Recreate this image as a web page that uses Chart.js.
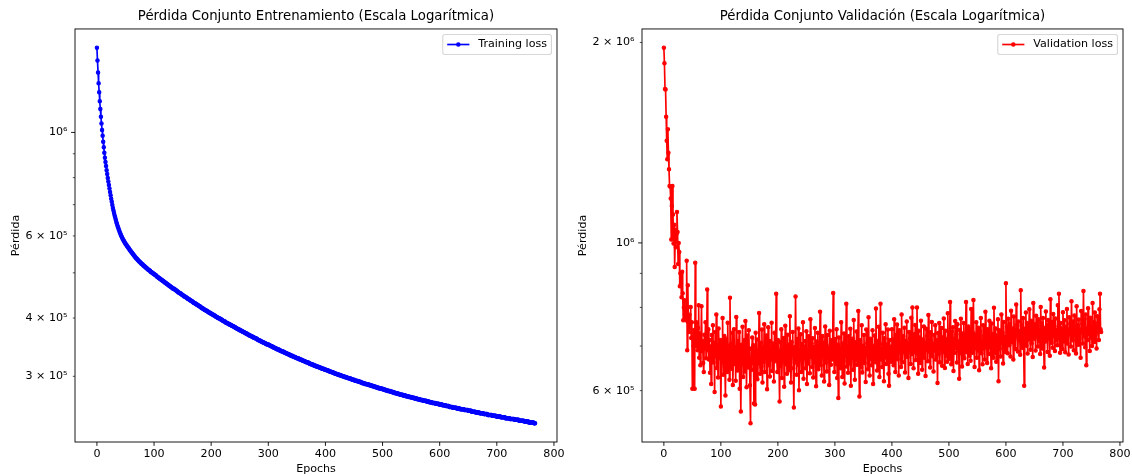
<!DOCTYPE html>
<html lang="es">
<head>
<meta charset="utf-8">
<title>Pérdida por época</title>
<script src="https://cdn.jsdelivr.net/npm/chart.js@4.4.1/dist/chart.umd.min.js"></script>
<style>
    html, body { margin: 0; padding: 0; background: #fff; }
    #wrap { position: relative; width: 1132px; height: 476px; }
    .panel { position: absolute; top: 0; width: 566px; height: 476px; }
</style>
</head>
<body>
<div id="wrap">
    <div class="panel" style="left:0"><canvas id="trainChart"></canvas></div>
    <div class="panel" style="left:566px"><canvas id="valChart"></canvas></div>
</div>
<script>
// Pérdida de entrenamiento por época (en miles)
const trainLossK = [
    1519, 1426, 1345, 1274, 1219, 1166, 1123, 1081, 1045, 1012,
    984, 955, 929, 904, 882, 864, 847, 830, 814, 799,
    785, 771, 758, 745, 733, 721, 710, 699, 689, 680,
    672, 664, 657, 650, 643, 637, 631, 626, 621, 616,
    611, 607, 603, 599, 595, 592, 589, 586, 583, 580,
    577, 575, 573, 570, 568, 566, 564, 561, 559, 557,
    555, 553, 551, 549, 547, 545, 543, 541, 539, 537,
    536, 534, 532, 531, 529, 528, 526, 525, 523, 522,
    521, 519, 518, 517, 515, 514, 513, 512, 510, 509,
    508, 507, 506, 505, 503, 502, 501, 500, 499, 498,
    497, 496, 495, 494, 493, 491, 490, 489, 488, 487,
    486, 485, 484, 483, 482, 481, 480, 479, 478, 477,
    476, 475, 474, 473, 472, 471, 470, 469, 468, 467,
    466, 465, 464, 463, 462, 462, 461, 460, 459, 458,
    457, 456, 455, 454, 453, 452, 452, 451, 450, 449,
    448, 447, 446, 445, 445, 444, 443, 442, 441, 440,
    440, 439, 438, 437, 436, 435, 435, 434, 433, 432,
    431, 431, 430, 429, 428, 427, 427, 426, 425, 424,
    424, 423, 422, 421, 420, 420, 419, 418, 417, 416,
    416, 415, 414, 414, 413, 412, 411, 411, 410, 409,
    409, 408, 407, 407, 406, 405, 405, 404, 403, 402,
    402, 401, 400, 400, 399, 399, 398, 397, 397, 396,
    395, 394, 394, 393, 393, 392, 391, 391, 390, 390,
    389, 388, 388, 387, 387, 386, 385, 385, 384, 384,
    383, 382, 382, 381, 381, 380, 379, 379, 378, 378,
    377, 376, 376, 375, 375, 374, 374, 373, 373, 372,
    371, 371, 370, 370, 369, 369, 368, 367, 367, 366,
    366, 365, 365, 364, 364, 363, 363, 362, 362, 361,
    361, 360, 359, 359, 358, 358, 357, 357, 356, 356,
    355, 355, 354, 354, 353, 353, 352, 352, 351, 351,
    351, 350, 350, 349, 349, 348, 348, 347, 347, 346,
    346, 345, 345, 344, 344, 343, 343, 343, 342, 342,
    341, 341, 340, 340, 339, 339, 339, 338, 338, 337,
    337, 336, 336, 335, 335, 335, 334, 334, 333, 333,
    332, 332, 332, 331, 331, 330, 330, 330, 329, 329,
    328, 328, 328, 327, 327, 326, 326, 326, 325, 325,
    324, 324, 324, 323, 323, 322, 322, 322, 321, 321,
    321, 320, 320, 319, 319, 319, 318, 318, 318, 317,
    317, 316, 316, 316, 315, 315, 315, 314, 314, 314,
    313, 313, 313, 312, 312, 312, 311, 311, 311, 310,
    310, 310, 309, 309, 309, 308, 308, 308, 307, 307,
    307, 306, 306, 306, 305, 305, 305, 304, 304, 304,
    303, 303, 303, 302, 302, 302, 302, 301, 301, 301,
    300, 300, 300, 299, 299, 299, 299, 298, 298, 298,
    297, 297, 297, 297, 296, 296, 296, 295, 295, 295,
    295, 294, 294, 294, 293, 293, 293, 293, 292, 292,
    292, 292, 291, 291, 291, 290, 290, 290, 290, 289,
    289, 289, 289, 288, 288, 288, 288, 287, 287, 287,
    287, 286, 286, 286, 286, 285, 285, 285, 285, 284,
    284, 284, 284, 283, 283, 283, 283, 282, 282, 282,
    282, 281, 281, 281, 281, 280, 280, 280, 280, 279,
    279, 279, 279, 279, 278, 278, 278, 278, 277, 277,
    277, 277, 276, 276, 276, 276, 276, 275, 275, 275,
    275, 274, 274, 274, 274, 274, 273, 273, 273, 273,
    273, 272, 272, 272, 272, 272, 271, 271, 271, 271,
    271, 270, 270, 270, 270, 270, 269, 269, 269, 269,
    269, 268, 268, 268, 268, 268, 267, 267, 267, 267,
    267, 266, 266, 266, 266, 266, 266, 265, 265, 265,
    265, 265, 264, 264, 264, 264, 264, 263, 263, 263,
    263, 263, 263, 262, 262, 262, 262, 262, 262, 261,
    261, 261, 261, 261, 261, 260, 260, 260, 260, 260,
    260, 259, 259, 259, 259, 259, 259, 258, 258, 258,
    258, 258, 258, 257, 257, 257, 257, 257, 257, 257,
    256, 256, 256, 256, 256, 256, 255, 255, 255, 255,
    255, 255, 255, 254, 254, 254, 254, 254, 254, 254,
    253, 253, 253, 253, 253, 253, 252, 252, 252, 252,
    252, 252, 252, 251, 251, 251, 251, 251, 251, 251,
    250, 250, 250, 250, 250, 250, 250, 249, 249, 249,
    249, 249, 249, 249, 248, 248, 248, 248, 248, 248,
    248, 248, 247, 247, 247, 247, 247, 247, 247, 246,
    246, 246, 246, 246, 246, 246, 246, 245, 245, 245,
    245, 245, 245, 245, 245, 244, 244, 244, 244, 244,
    244, 244, 244, 243, 243, 243, 243, 243, 243, 243,
    243, 242, 242, 242, 242, 242, 242, 242, 242, 241,
    241, 241, 241, 241, 241, 241, 241, 241, 240, 240,
    240, 240, 240, 240, 240, 240, 239, 239, 239, 239,
    239, 239, 239, 239, 239, 238, 238, 238
];

// Pérdida de validación por época (en miles)
const valLossK = [
    1964, 1861, 1703, 1700, 1547, 1424, 1335, 1481, 1366, 1290,
    1217, 1215, 1166, 1012, 1136, 1217, 1103, 998, 1065, 920,
    1045, 985, 1030, 1113, 1038, 930, 1000, 969, 861, 900,
    870, 829, 905, 840, 765, 800, 820, 780, 765, 800,
    940, 690, 864, 760, 735, 780, 745, 801, 720, 760,
    604, 730, 700, 740, 604, 934, 700, 760, 725, 690,
    745, 806, 672, 731, 655, 702, 803, 688, 712, 660,
    640, 728, 694, 760, 671, 705, 851, 690, 742, 668,
    715, 638, 699, 614, 727, 683, 752, 661, 708, 597,
    735, 676, 781, 649, 702, 628, 744, 671, 690, 715,
    568, 703, 662, 771, 634, 697, 725, 652, 590, 718,
    684, 640, 759, 672, 701, 623, 827, 668, 705, 647,
    733, 612, 689, 742, 658, 697, 621, 774, 680, 643,
    712, 666, 735, 604, 691, 558, 703, 657, 748, 629,
    688, 714, 641, 763, 672, 607, 726, 683, 650, 739,
    668, 611, 536, 694, 645, 721, 660, 702, 574, 687,
    572, 733, 649, 716, 624, 690, 659, 785, 671, 636,
    708, 652, 741, 617, 695, 663, 755, 640, 701, 678,
    726, 603, 689, 747, 655, 712, 630, 694, 668, 759,
    642, 706, 681, 619, 733, 664, 698, 839, 671, 640,
    715, 688, 652, 578, 709, 661, 742, 627, 693, 675,
    720, 608, 684, 751, 657, 699, 636, 728, 665, 703,
    644, 776, 672, 617, 710, 681, 735, 648, 566, 697,
    662, 831, 679, 634, 717, 656, 744, 601, 690, 668,
    729, 640, 705, 683, 760, 625, 698, 671, 712, 648,
    737, 614, 686, 659, 724, 693, 637, 768, 674, 706,
    651, 719, 628, 697, 680, 745, 662, 609, 711, 684,
    733, 646, 701, 670, 788, 655, 694, 632, 725, 677,
    708, 619, 690, 749, 661, 703, 641, 727, 673, 696,
    612, 738, 685, 656, 714, 668, 699, 841, 676, 640,
    717, 689, 658, 742, 627, 703, 585, 721, 671, 694,
    648, 760, 683, 629, 706, 664, 731, 615, 692, 677,
    810, 652, 700, 638, 724, 686, 659, 743, 610, 697,
    672, 718, 645, 766, 681, 623, 709, 667, 736, 656,
    698, 790, 675, 588, 714, 682, 651, 752, 639, 701,
    688, 727, 660, 695, 618, 741, 679, 707, 646, 773,
    684, 632, 718, 670, 703, 655, 739, 614, 699, 686,
    726, 662, 797, 690, 643, 712, 677, 748, 629, 705,
    810, 668, 694, 651, 733, 682, 620, 719, 673, 755,
    658, 704, 688, 741, 636, 610, 715, 679, 698, 663,
    742, 681, 716, 655, 768, 693, 640, 727, 701, 754,
    669, 715, 632, 739, 688, 707, 651, 781, 697, 662,
    724, 685, 746, 639, 713, 696, 762, 674, 706, 627,
    735, 690, 719, 658, 772, 681, 800, 703, 648, 729,
    686, 753, 667, 712, 800, 694, 636, 738, 679, 721,
    660, 764, 699, 645, 716, 684, 749, 672, 708, 631,
    743, 691, 725, 664, 779, 687, 712, 650, 734, 698,
    761, 676, 705, 641, 727, 689, 752, 668, 714, 695,
    616, 732, 681, 758, 662, 709, 693, 745, 654, 721,
    686, 770, 703, 649, 738, 677, 716, 663, 784, 695,
    722, 670, 815, 688, 657, 736, 701, 747, 642, 718,
    684, 763, 696, 729, 661, 755, 690, 711, 625, 740,
    683, 769, 704, 652, 731, 692, 758, 671, 715, 697,
    815, 686, 724, 658, 749, 702, 677, 741, 665, 796,
    709, 684, 733, 821, 694, 651, 728, 705, 760, 672,
    718, 689, 746, 644, 737, 699, 771, 683, 713, 657,
    752, 694, 725, 668, 788, 701, 735, 660, 742, 706,
    681, 764, 697, 721, 648, 757, 689, 730, 672, 799,
    708, 684, 744, 663, 726, 702, 768, 620, 739, 694,
    716, 675, 781, 707, 733, 659, 761, 698, 722, 686,
    870, 714, 748, 683, 769, 722, 702, 756, 675, 791,
    731, 709, 744, 668, 775, 718, 740, 693, 808, 726,
    753, 687, 762, 714, 737, 679, 849, 722, 750, 696,
    771, 709, 610, 743, 720, 786, 701, 758, 682, 739,
    716, 795, 728, 691, 764, 707, 747, 674, 812, 733,
    718, 755, 689, 777, 726, 743, 699, 768, 712, 736,
    681, 801, 730, 757, 694, 771, 719, 650, 745, 711,
    789, 727, 752, 686, 766, 720, 741, 677, 823, 734,
    708, 761, 696, 782, 725, 749, 688, 770, 715, 739,
    702, 806, 732, 839, 719, 684, 758, 727, 744, 693,
    787, 730, 711, 765, 685, 748, 722, 796, 706, 741,
    680, 773, 729, 756, 699, 817, 735, 714, 762, 690,
    778, 727, 745, 682, 803, 731, 752, 703, 767, 718,
    741, 672, 790, 734, 757, 706, 847, 724, 769, 697,
    781, 655, 743, 715, 798, 730, 754, 688, 772, 721,
    745, 700, 812, 733, 760, 710, 786, 728, 749, 694,
    776, 737, 758, 715, 795, 839, 742, 735
];

const epochs = trainLossK.map((_, i) => i);

// Marcas de los ejes
const xTicks = [0, 100, 200, 300, 400, 500, 600, 700, 800];
const trainYTicks = [3e5, 4e5, 5e5, 6e5, 7e5, 8e5, 9e5, 1e6];
const trainYLabels = ['3 × 10⁵', '4 × 10⁵', '', '6 × 10⁵', '', '', '', '10⁶'];
const valYTicks = [6e5, 7e5, 8e5, 9e5, 1e6, 2e6];
const valYLabels = ['6 × 10⁵', '', '', '', '10⁶', '2 × 10⁶'];

const FONT = 'DejaVu Sans';
const FS = 11.1;   // tamaño base del texto

// Límites del eje log con 5% de margen
function logBounds(values) {
    const lo = Math.log10(Math.min(...values));
    const hi = Math.log10(Math.max(...values));
    const pad = (hi - lo) * 0.05;
    return { min: Math.pow(10, lo - pad), max: Math.pow(10, hi + pad) };
}

function isDecade(v) {
    const l = Math.log10(v);
    return Math.abs(l - Math.round(l)) < 1e-9;
}

// Marco completo y rayitas de los ejes
const axesFrame = {
    id: 'axesFrame',
    afterDatasetsDraw(chart) {
        const { ctx, chartArea: a, scales: { x, y } } = chart;
        ctx.save();
        ctx.strokeStyle = '#000';
        ctx.lineWidth = 0.9;
        ctx.beginPath();
        x.ticks.forEach(t => {
            const px = x.getPixelForValue(t.value);
            ctx.moveTo(px, a.bottom);
            ctx.lineTo(px, a.bottom + 3.9);
        });
        ctx.stroke();
        y.ticks.forEach(t => {
            const py = y.getPixelForValue(t.value);
            const major = isDecade(t.value);
            ctx.lineWidth = major ? 0.9 : 0.67;
            ctx.beginPath();
            ctx.moveTo(a.left, py);
            ctx.lineTo(a.left - (major ? 3.9 : 2.2), py);
            ctx.stroke();
        });
        ctx.lineWidth = 0.9;
        ctx.strokeRect(a.left, a.top, a.right - a.left, a.bottom - a.top);
        ctx.restore();
    }
};

// Leyenda con caja en la esquina superior derecha
const boxLegend = {
    id: 'boxLegend',
    afterDraw(chart) {
        const { ctx, chartArea: a } = chart;
        const ds = chart.data.datasets[0];
        ctx.save();
        ctx.font = `${FS}px "${FONT}"`;
        const tw = ctx.measureText(ds.label).width;
        const pad = 0.4 * FS, hl = 2 * FS, gap = 0.8 * FS;
        const w = pad + hl + gap + tw + pad, h = 20;
        const right = a.right - 0.5 * FS, top = a.top + 0.5 * FS, left = right - w;
        ctx.beginPath();
        ctx.roundRect(left, top, w, h, 2.2);
        ctx.fillStyle = 'rgba(255,255,255,0.8)';
        ctx.fill();
        ctx.strokeStyle = 'rgba(204,204,204,0.8)';
        ctx.lineWidth = 1.1;
        ctx.stroke();
        const cy = top + h / 2;
        ctx.strokeStyle = ds.borderColor;
        ctx.lineWidth = ds.borderWidth;
        ctx.beginPath();
        ctx.moveTo(left + pad, cy);
        ctx.lineTo(left + pad + hl, cy);
        ctx.stroke();
        ctx.beginPath();
        ctx.arc(left + pad + hl / 2, cy, ds.pointRadius + ds.pointBorderWidth / 2, 0, Math.PI * 2);
        ctx.fillStyle = ds.borderColor;
        ctx.fill();
        ctx.fillStyle = '#000';
        ctx.textBaseline = 'middle';
        ctx.fillText(ds.label, left + pad + hl + gap, cy);
        ctx.restore();
    }
};

function makeLossChart(canvasId, cfg) {
    const points = cfg.lossK.map((v, i) => ({ x: epochs[i], y: v * 1000 }));
    const yb = logBounds(points.map(p => p.y));
    const last = epochs[epochs.length - 1];

    return new Chart(document.getElementById(canvasId), {
        type: 'line',
        data: {
            datasets: [{
                label: cfg.label,
                data: points,
                borderColor: cfg.color,
                backgroundColor: cfg.color,
                borderWidth: 1.67,
                pointRadius: 1.7,
                pointBorderWidth: 1.1,
                pointBackgroundColor: cfg.color,
                pointBorderColor: cfg.color,
                tension: 0
            }]
        },
        options: {
            responsive: true,
            maintainAspectRatio: false,
            animation: false,
            devicePixelRatio: 1,
            events: [],
            layout: { padding: { left: 0, right: 9, top: 0, bottom: 0 } },
            plugins: {
                legend: { display: false },
                tooltip: { enabled: false },
                title: {
                    display: true,
                    text: cfg.title,
                    fullSize: false,
                    color: '#000',
                    font: { family: FONT, size: 13.3, weight: 'normal', lineHeight: 1.2 },
                    padding: { top: 8.5, bottom: 4.5 }
                }
            },
            scales: {
                x: {
                    type: 'linear',
                    min: -0.05 * last,
                    max: 1.05 * last,
                    afterBuildTicks: s => { s.ticks = xTicks.map(v => ({ value: v })); },
                    afterFit: s => { s.height = 34; s.paddingLeft = 0; s.paddingRight = 0; },
                    grid: { display: false, drawTicks: false },
                    border: { display: false },
                    ticks: {
                        autoSkip: false,
                        maxRotation: 0,
                        padding: 5.3,
                        color: '#000',
                        font: { family: FONT, size: FS },
                        callback: v => String(v)
                    },
                    title: {
                        display: true,
                        text: 'Epochs',
                        color: '#000',
                        font: { family: FONT, size: FS, lineHeight: 1.2 },
                        padding: 0
                    }
                },
                y: {
                    type: 'logarithmic',
                    min: yb.min,
                    max: yb.max,
                    afterBuildTicks: s => { s.ticks = cfg.yTicks.map(v => ({ value: v })); },
                    afterFit: s => { s.width = cfg.axisWidth; s.paddingTop = 0; s.paddingBottom = 0; },
                    grid: { display: false, drawTicks: false },
                    border: { display: false },
                    ticks: {
                        autoSkip: false,
                        padding: 7.5,
                        color: '#000',
                        font: { family: FONT, size: FS },
                        callback: v => {
                            const i = cfg.yTicks.indexOf(v);
                            return i >= 0 ? cfg.yLabels[i] : '';
                        }
                    },
                    title: {
                        display: true,
                        text: 'Pérdida',
                        color: '#000',
                        font: { family: FONT, size: FS, lineHeight: 1.2 },
                        padding: { top: cfg.yTitlePad, bottom: 0 }
                    }
                }
            }
        },
        plugins: [axesFrame, boxLegend]
    });
}

makeLossChart('trainChart', {
    lossK: trainLossK,
    label: 'Training loss',
    color: '#0000ff',
    title: 'Pérdida Conjunto Entrenamiento (Escala Logarítmica)',
    yTicks: trainYTicks,
    yLabels: trainYLabels,
    axisWidth: 75,
    yTitlePad: 9.3
});

makeLossChart('valChart', {
    lossK: valLossK,
    label: 'Validation loss',
    color: '#ff0000',
    title: 'Pérdida Conjunto Validación (Escala Logarítmica)',
    yTicks: valYTicks,
    yLabels: valYLabels,
    axisWidth: 76,
    yTitlePad: 10
});
</script>
</body>
</html>
